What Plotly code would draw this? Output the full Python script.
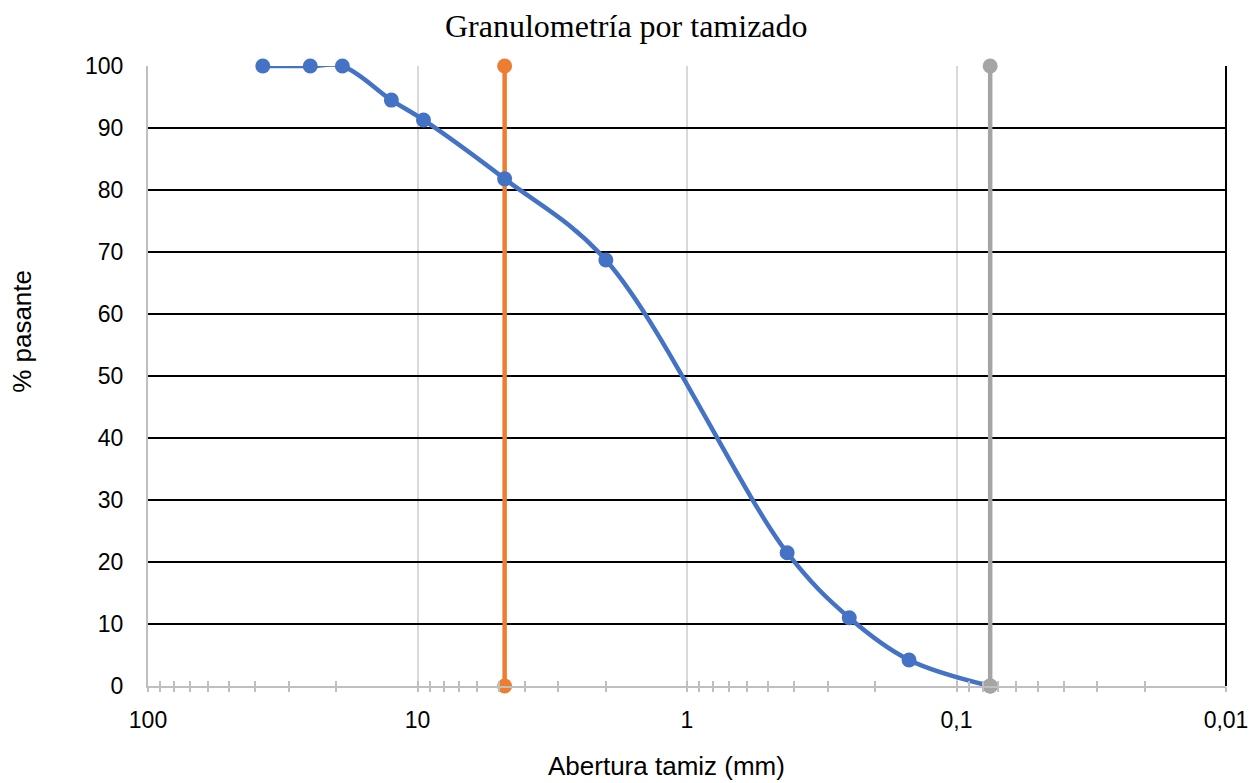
import plotly.graph_objects as go

# Sieve analysis: aperture (mm) vs cumulative percent passing
abertura_mm = [37.5, 25, 19, 12.5, 9.5, 4.75, 2.0, 0.425, 0.25, 0.15, 0.075]
pasante_pct = [100, 100, 100, 94.5, 91.3, 81.8, 68.7, 21.5, 11.0, 4.2, 0]

# Reference verticals: No. 4 sieve (4.75 mm) and No. 200 sieve (0.075 mm)
tamiz_n4_x = [4.75, 4.75]
tamiz_n4_y = [0, 100]
tamiz_n200_x = [0.075, 0.075]
tamiz_n200_y = [0, 100]

# Axis ticks
decadas = [100, 10, 1, 0.1, 0.01]
decadas_txt = ["100", "10", "1", "0,1", "0,01"]
menores = [m * d for d in [10, 1, 0.1, 0.01] for m in range(1, 10)] + [100]
y_ticks = list(range(0, 101, 10))

AZUL = "#4472C4"
NARANJA = "#ED7D31"
GRIS = "#A5A5A5"
EJE = "#BFBFBF"
SANS = "Liberation Sans, Arial, sans-serif"
SERIF = "Liberation Serif, Times New Roman, serif"

fig = go.Figure()

fig.add_trace(go.Scatter(
    x=tamiz_n4_x, y=tamiz_n4_y, mode="lines+markers",
    line=dict(color=NARANJA, width=4.5),
    marker=dict(color=NARANJA, size=15),
    cliponaxis=False, showlegend=False, hoverinfo="x+y",
))

fig.add_trace(go.Scatter(
    x=abertura_mm, y=pasante_pct, mode="lines+markers",
    line=dict(color=AZUL, width=4.5, shape="spline", smoothing=1),
    marker=dict(color=AZUL, size=15),
    cliponaxis=False, showlegend=False, hoverinfo="x+y",
))

fig.add_trace(go.Scatter(
    x=tamiz_n200_x, y=tamiz_n200_y, mode="lines+markers",
    line=dict(color=GRIS, width=4.5),
    marker=dict(color=GRIS, size=15),
    cliponaxis=False, showlegend=False, hoverinfo="x+y",
))

# empty traces so the overlaid tick-mark axes are rendered
fig.add_trace(go.Scatter(x=[], y=[], xaxis="x2", yaxis="y", showlegend=False))
fig.add_trace(go.Scatter(x=[], y=[], xaxis="x3", yaxis="y", showlegend=False))

x_range = [2, -2]

fig.update_layout(
    width=1251, height=783,
    margin=dict(l=148, r=25, t=66, b=97, autoexpand=False),
    paper_bgcolor="white", plot_bgcolor="white",
    showlegend=False,
    xaxis=dict(
        type="log", range=x_range, automargin=False,
        tickmode="array", tickvals=decadas, ticktext=decadas_txt,
        ticks="", showgrid=True, gridcolor="#D9D9D9", gridwidth=2,
        showline=True, linecolor=EJE, linewidth=2, zeroline=False,
        tickfont=dict(family=SANS, size=23, color="#000000"),
        ticklabelstandoff=12,
    ),
    xaxis2=dict(
        type="log", range=x_range, overlaying="x", anchor="y", automargin=False,
        tickmode="array", tickvals=menores,
        ticks="outside", ticklen=5, tickwidth=1.5, tickcolor=EJE,
        showticklabels=False, showgrid=False, showline=False, zeroline=False,
    ),
    xaxis3=dict(
        type="log", range=x_range, overlaying="x", anchor="y", automargin=False,
        tickmode="array", tickvals=menores,
        ticks="inside", ticklen=5, tickwidth=1.5, tickcolor=EJE,
        showticklabels=False, showgrid=False, showline=False, zeroline=False,
    ),
    yaxis=dict(
        range=[0, 100], tickmode="array", tickvals=y_ticks, automargin=False,
        ticks="", showgrid=True, gridcolor="#000000", gridwidth=2,
        showline=True, linecolor=EJE, linewidth=2, zeroline=False,
        tickfont=dict(family=SANS, size=23, color="#000000"),
        ticklabelstandoff=18,
    ),
    shapes=[dict(
        type="line", xref="paper", yref="y", x0=1, x1=1, y0=0, y1=100,
        line=dict(color="#000000", width=2),
    )],
    annotations=[
        dict(text="Granulometría por tamizado", xref="paper", yref="paper",
             x=0.4443, y=1.0645, xanchor="center", yanchor="middle",
             showarrow=False, font=dict(family=SERIF, size=32, color="#000000")),
        dict(text="Abertura tamiz (mm)", xref="paper", yref="paper",
             x=0.4814, y=-0.129, xanchor="center", yanchor="middle",
             showarrow=False, font=dict(family=SANS, size=26, color="#000000")),
        dict(text="% pasante", xref="paper", yref="paper",
             x=-0.117, y=0.5726, xanchor="center", yanchor="middle", textangle=-90,
             showarrow=False, font=dict(family=SANS, size=26, color="#000000")),
    ],
)

fig.write_html("out.html")
